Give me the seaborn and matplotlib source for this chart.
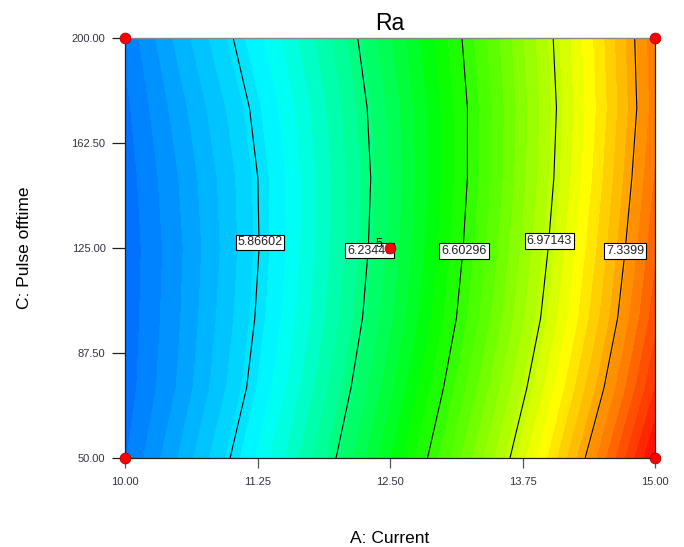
import numpy as np
import pandas as pd
import matplotlib
matplotlib.use("Agg")
import matplotlib.pyplot as plt
import seaborn as sns
from matplotlib.colors import LinearSegmentedColormap, Normalize

# ---------------- data ----------------
A_values = [10.0, 10.5, 11.0, 11.5, 12.0, 12.5, 13.0, 13.5, 14.0, 14.5, 15.0]
C_values = [50.0, 75.0, 100.0, 125.0, 150.0, 175.0, 200.0]

ra_c50 = [5.545, 5.700, 5.869, 6.046, 6.238, 6.445, 6.668, 6.905, 7.157, 7.425, 7.708]
ra_c75 = [5.520, 5.655, 5.814, 5.991, 6.181, 6.384, 6.601, 6.830, 7.073, 7.330, 7.599]
ra_c100 = [5.515, 5.642, 5.791, 5.958, 6.140, 6.336, 6.546, 6.771, 7.009, 7.261, 7.528]
ra_c125 = [5.512, 5.636, 5.779, 5.943, 6.121, 6.313, 6.519, 6.740, 6.975, 7.224, 7.487]
ra_c150 = [5.520, 5.648, 5.786, 5.944, 6.116, 6.302, 6.504, 6.719, 6.949, 7.194, 7.453]
ra_c175 = [5.535, 5.675, 5.813, 5.965, 6.132, 6.312, 6.507, 6.715, 6.938, 7.175, 7.426]
ra_c200 = [5.560, 5.715, 5.860, 6.006, 6.166, 6.341, 6.530, 6.734, 6.953, 7.187, 7.435]

contour_levels = [5.86602, 6.23449, 6.60296, 6.97143, 7.3399]

design_A = [10.0, 10.0, 15.0, 15.0, 12.5]
design_C = [50.0, 200.0, 50.0, 200.0, 125.0]
design_reps = [1, 1, 1, 1, 5]

x_ticks = [10.00, 11.25, 12.50, 13.75, 15.00]
y_ticks = [50.00, 87.50, 125.00, 162.50, 200.00]

title = "Ra"
x_label = "A: Current"
y_label = "C: Pulse offtime"

# ---------------- style / layout ----------------
label_pos = [(11.274, 127.0), (12.311, 124.1), (13.198, 124.0), (14.002, 127.6), (14.717, 124.0)]

sns.set_theme(style="white")
plt.rcParams["font.family"] = ["Liberation Sans", "DejaVu Sans"]

Ra = np.array([ra_c50, ra_c75, ra_c100, ra_c125, ra_c150, ra_c175, ra_c200])
AA, CC = np.meshgrid(A_values, C_values)

vmin, vmax = 5.45, 7.72
nodes = [(5.45, (0 / 255, 90 / 255, 1.0)),
         (5.95, (0.0, 1.0, 1.0)),
         (6.50, (0.0, 1.0, 0.0)),
         (7.12, (1.0, 1.0, 0.0)),
         (7.72, (1.0, 0.0, 0.0))]
cmap = LinearSegmentedColormap.from_list(
    "dx", [((v - vmin) / (vmax - vmin), c) for v, c in nodes])
norm = Normalize(vmin=vmin, vmax=vmax, clip=True)

fig = plt.figure(figsize=(6.84, 5.47), dpi=100)
ax = fig.add_axes([125 / 684, 1 - 458 / 547, 530 / 684, 420 / 547])

band_levels = np.arange(5.40, 7.80, 0.05)
ax.contourf(AA, CC, Ra, levels=band_levels, cmap=cmap, norm=norm,
            antialiased=False, zorder=1)
ax.contour(AA, CC, Ra, levels=contour_levels, colors="black",
           linewidths=0.8, zorder=2)

for lvl, (lx, ly) in zip(contour_levels, label_pos):
    ax.text(lx, ly, f"{lvl:g}", fontsize=9, ha="center", va="center",
            color="#222222", zorder=4,
            bbox=dict(boxstyle="square,pad=0.15", facecolor="white",
                      edgecolor="black", linewidth=0.8))

pts = pd.DataFrame({"A": design_A, "C": design_C, "reps": design_reps})
sns.scatterplot(data=pts, x="A", y="C", ax=ax, color="#ff0000",
                edgecolor="#b00000", linewidth=0.6, s=60, marker="o",
                clip_on=False, zorder=6, legend=False)
for a, c, r in zip(design_A, design_C, design_reps):
    if r > 1:
        ax.annotate(str(r), (a, c), xytext=(-8, 3), textcoords="offset points",
                    fontsize=9, ha="center", va="center", color="black",
                    zorder=7)

ax.set_xlim(10, 15)
ax.set_ylim(50, 200)
ax.set_xticks(x_ticks)
ax.set_yticks(y_ticks)
ax.set_xticklabels([f"{t:.2f}" for t in x_ticks])
ax.set_yticklabels([f"{t:.2f}" for t in y_ticks])
ax.tick_params(axis="x", direction="out", length=7.5, width=0.9,
               color="#555555", pad=6, labelsize=8, labelcolor="#333344",
               bottom=True)
ax.tick_params(axis="y", direction="out", length=9.5, width=0.9,
               color="#222222", pad=4.5, labelsize=8, labelcolor="#333344",
               left=True)
for side in ["left", "bottom", "right"]:
    ax.spines[side].set_color("#222222")
    ax.spines[side].set_linewidth(0.9)
ax.spines["top"].set_color("#888888")
ax.spines["top"].set_linewidth(1.0)
for sp in ax.spines.values():
    sp.set_zorder(5)

ax.set_title(title, fontsize=16.5, pad=6, color="black")
ax.set_xlabel(x_label, fontsize=12.5, color="black")
ax.set_ylabel(y_label, fontsize=12.5, color="black")
ax.xaxis.set_label_coords(0.5, (458 - 531) / 420)
ax.yaxis.set_label_coords((32 - 125) / 530, 0.5)

fig.savefig("out.png", dpi=100, facecolor="white")
